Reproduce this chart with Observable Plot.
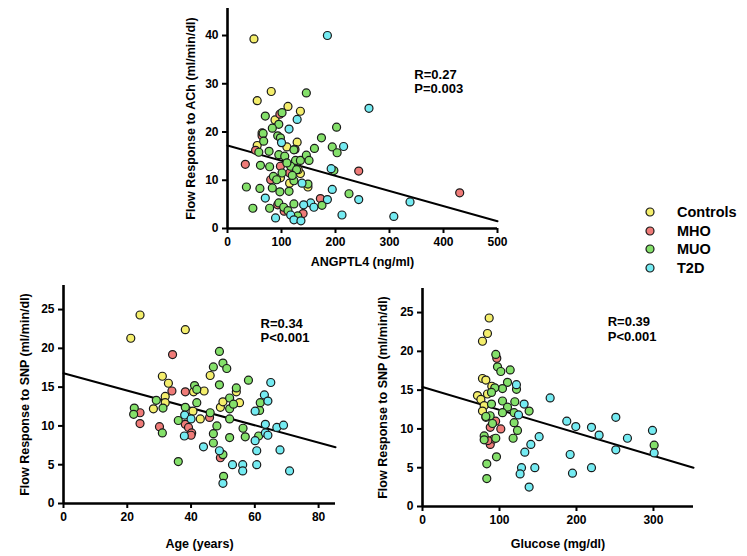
<!DOCTYPE html>
<html>
<head>
<meta charset="utf-8">
<script src="https://cdn.jsdelivr.net/npm/d3@7"></script>
<script src="https://cdn.jsdelivr.net/npm/@observablehq/plot@0.6"></script>
<style>
  html, body { margin: 0; padding: 0; background: #fff; }
  #root { position: relative; width: 747px; height: 556px; overflow: hidden; font-family: "Liberation Sans", Arial, sans-serif; }
  .panel { position: absolute; }
  #legend { position: absolute; left: 640px; top: 200px; font-weight: bold; font-size: 14.5px; color: #000; }
  .lg { position: absolute; left: 0; height: 18px; white-space: nowrap; }
  .lg svg { position: absolute; left: 5px; top: 4px; }
  .lg span { position: absolute; left: 37px; top: 1px; }
</style>
</head>
<body>
<div id="root"></div>
<script>
// ---------- data ----------
const groups = ["Controls", "MHO", "MUO", "T2D"];
const groupColors = ["#f4ee6c", "#ef7b78", "#84e06a", "#74ebf2"];

// Panel A: ANGPTL4 (ng/ml) vs Flow Response to ACh (ml/min/dl)
const achControls = [[49,39.3],[55,26.5],[81,28.4],[112,25.3],[135,24.3],[88,22.5],[64,19.8],[55,17.2],[129,17.9],[110,16.9],[135,11.4],[149,8.6],[115,9.4],[131,12.2],[98,10.5]];
const achMHO = [[33,13.3],[52,16.2],[64,19.2],[97,23.7],[98,12.9],[80,10.1],[93,4.9],[115,11.5],[243,11.9],[430,7.4],[172,6.2],[140,3.1],[105,3.6],[125,16.4]];
const achMUO = [[146,28.1],[70,23.3],[101,24],[95,21.6],[83,20.8],[66,19.7],[67,18.1],[93,19.2],[98,18.8],[77,16],[58,15.8],[95,15.3],[106,15],[123,16.3],[126,14.1],[135,14.1],[146,15.2],[151,14.1],[161,16.6],[174,18.8],[202,21],[194,16.9],[203,15.7],[197,12],[61,13.1],[78,12.8],[85,10.8],[101,11.5],[117,12.9],[123,9.9],[128,12.2],[91,10.1],[35,8.6],[60,8.3],[83,8.4],[97,7.6],[114,7.7],[149,9.2],[225,7.2],[47,4.2],[78,4.2],[95,5.3],[104,4.4],[123,5.1],[112,3.7],[130,2.6],[175,4.8],[110,13.6],[120,11]];
const achT2D = [[185,40],[262,24.9],[129,22.6],[114,20.6],[100,17.8],[215,17],[192,12.4],[194,8.1],[138,9.4],[70,6.3],[185,6],[243,6],[154,5.3],[141,4.9],[160,4.4],[89,2.2],[117,2.8],[123,1.8],[136,1.6],[212,2.8],[308,2.5],[338,5.5]];
const achFit = [[0,17.2],[500,1.5]];
const achTicksX = [0,100,200,300,400,500];
const achTicksY = [0,10,20,30,40];

// Panel B: Age (years) vs Flow Response to SNP
const ageControls = [[24,24.3],[21.1,21.3],[38.2,22.4],[31,16.4],[32.9,15.5],[31.9,13.8],[31.9,13],[28.2,12.2],[46,16.5],[44.1,14.5],[40.8,14.4],[42.9,10.9],[40.6,11.9],[49.2,12.4],[50,13.1],[54.2,14.4],[55.2,13]];
const ageMHO = [[34.2,19.2],[34,14.5],[38.2,14.4],[24,11.7],[24,10.3],[30.1,9.9],[38.2,10.2],[39.2,9.8],[40.2,9.1],[49.2,5.9],[45.8,11.1],[40,8.8]];
const ageMUO = [[22.2,12.3],[22,11.5],[29.1,13.3],[31.2,12.3],[31,9.1],[36,10.7],[36,5.4],[38.2,12.4],[41.1,15.2],[41.8,14.7],[41.8,13],[46,11.7],[47,9],[47,7.8],[48.1,10],[47,17.6],[48.9,19.6],[50,18.1],[51.2,17.4],[48.9,15.3],[52.1,13.6],[52.1,12.2],[52.1,10.9],[53.3,12.8],[54.2,14.9],[52.1,8.5],[50,6.3],[50.2,3.5],[56.3,9.7],[57,8.6],[58,15.9],[61.5,12],[61.7,13],[61.2,8.7]];
const ageT2D = [[38,11.4],[40,10.9],[37.9,8.7],[43.9,7.3],[48.9,6.8],[50,2.6],[53,5],[56.2,5],[56.2,4.2],[60.6,5],[60.6,6.8],[60.1,11.9],[60.1,8.1],[63,14],[63.3,10.2],[63.3,9.1],[64.1,13.2],[65,15.6],[64.1,8.8],[66.9,9.8],[69,10.1],[67.9,6.9],[70.9,4.2]];
const ageFit = [[0,16.8],[85.3,7.25]];
const ageTicksX = [0,20,40,60,80];
const snpTicksY = [0,5,10,15,20,25];

// Panel C: Glucose (mg/dl) vs Flow Response to SNP
const gluControls = [[86.6,24.3],[84.4,22.3],[77.9,21.3],[77.9,16.5],[82.3,16.3],[71.4,14.3],[75.8,13.8],[80.1,13],[77.9,12.3],[84.4,14.5],[82.3,11.5],[90,15.5]];
const gluMHO = [[96.5,19.1],[101.7,10],[88,10.2],[88,8],[92.6,8.7],[85,8.5],[95,11]];
const gluMUO = [[95.2,19.6],[97.4,18],[101.7,17.4],[113.9,17.6],[110.4,16],[103.9,15.2],[93.9,15.3],[89.6,14.7],[89.6,13.2],[103.9,13.6],[110.4,12.8],[119.9,13.5],[119,12.1],[122.1,15.1],[138.5,12.3],[103.9,12.1],[87.9,11.7],[82.3,11.6],[90.9,10.7],[119,10.8],[123.4,9.8],[117.7,8.8],[95.2,8.8],[80.1,9.1],[80.1,8.6],[96.1,6.4],[83.5,5.5],[83.5,3.6],[300.9,7.9]];
const gluT2D = [[122,15.7],[132,13.2],[124.7,11.8],[165.8,14],[187.4,11],[199.1,10.3],[219.5,10.2],[229.4,9.2],[251.1,11.5],[266.2,8.8],[251.1,7.3],[298.7,9.8],[300.9,6.9],[151.5,9],[140.7,8],[132.9,7],[128.6,5],[126.8,4.2],[145.9,5],[138.5,2.5],[191.8,6.7],[194.8,4.3],[219.5,5]];
const gluFit = [[0,15.4],[352,5.0]];
const gluTicksX = [0,100,200,300];

// ---------- drawing ----------
const FONT = '"Liberation Sans", Arial, Helvetica, sans-serif';

function combine(lists) {
  const out = [];
  lists.forEach((list, i) => list.forEach(([x, y]) => out.push({x, y, group: groups[i]})));
  return out;
}

function panel(o) {
  const xMid = (o.xDomain[0] + o.xDomain[1]) / 2;
  const yMid = (o.yDomain[0] + o.yDomain[1]) / 2;
  return Plot.plot({
    width: o.width, height: o.height,
    marginLeft: o.ml, marginRight: o.mr, marginTop: o.mt, marginBottom: o.mb,
    x: {domain: o.xDomain},
    y: {domain: o.yDomain},
    color: {domain: groups, range: groupColors},
    style: {fontFamily: FONT, fontWeight: "bold", fontSize: "12px", color: "#000", background: "transparent", overflow: "visible"},
    marks: [
      Plot.axisX({ticks: o.xTicks, tickSize: 5, tickPadding: 4, strokeWidth: 2, label: null, fontSize: 12, fontWeight: "bold"}),
      Plot.axisY({ticks: o.yTicks, tickSize: 5, tickPadding: 4, strokeWidth: 2, label: null, fontSize: 12, fontWeight: "bold"}),
      Plot.ruleY([0], {strokeWidth: 2.6, stroke: "#000"}),
      Plot.ruleX([0], {strokeWidth: 2.6, stroke: "#000"}),
      Plot.line(o.fit, {stroke: "#000", strokeWidth: 2}),
      Plot.dot(combine(o.groups), {x: "x", y: "y", fill: "group", r: 4, stroke: "#1a1a1a", strokeWidth: 1.2}),
      Plot.text([o.ann], {x: o.annX, y: o.annY, text: d => d, textAnchor: "start", lineAnchor: "top", lineHeight: 1.12, fontSize: 13, fontWeight: "bold"}),
      Plot.text([o.xLabel], {x: xMid, y: o.yDomain[0], dy: o.xLabelDy, text: d => d, fontSize: 12.5, fontWeight: "bold"}),
      Plot.text([o.yLabel], {x: o.xDomain[0], y: yMid, dx: o.yLabelDx, rotate: -90, text: d => d, fontSize: 12.5, fontWeight: "bold"})
    ]
  });
}

const root = document.getElementById("root");
function place(node, left, top) {
  const d = document.createElement("div");
  d.className = "panel";
  d.style.left = left + "px";
  d.style.top = top + "px";
  d.appendChild(node);
  root.appendChild(d);
}

place(panel({
  width: 340, height: 275, ml: 57, mr: 13, mt: 8, mb: 47,
  xDomain: [0, 500], yDomain: [0, 45.6],
  xTicks: achTicksX, yTicks: achTicksY,
  fit: achFit, groups: [achControls, achMHO, achMUO, achT2D],
  ann: "R=0.27\nP=0.003", annX: 346, annY: 33.2,
  xLabel: "ANGPTL4 (ng/ml)", xLabelDy: 33,
  yLabel: "Flow Response to ACh (ml/min/dl)", yLabelDx: -37
}), 170, 0);

place(panel({
  width: 360, height: 281, ml: 63, mr: 25, mt: 10, mb: 53,
  xDomain: [0, 85.3], yDomain: [0, 28.1],
  xTicks: ageTicksX, yTicks: snpTicksY,
  fit: ageFit, groups: [ageControls, ageMHO, ageMUO, ageT2D],
  ann: "R=0.34\nP<0.001", annX: 61.8, annY: 24.0,
  xLabel: "Age (years)", xLabelDy: 40,
  yLabel: "Flow Response to SNP (ml/min/dl)", yLabelDx: -39
}), 0, 275);

place(panel({
  width: 377, height: 281, ml: 52, mr: 54, mt: 13, mb: 50,
  xDomain: [0, 352], yDomain: [0, 28.1],
  xTicks: gluTicksX, yTicks: snpTicksY,
  fit: gluFit, groups: [gluControls, gluMHO, gluMUO, gluT2D],
  ann: "R=0.39\nP<0.001", annX: 240.6, annY: 24.6,
  xLabel: "Glucose (mg/dl)", xLabelDy: 37,
  yLabel: "Flow Response to SNP (ml/min/dl)", yLabelDx: -40
}), 370, 275);

// legend
const legend = document.createElement("div");
legend.id = "legend";
const rowTops = [3, 22, 40, 59];
groups.forEach((g, i) => {
  const row = document.createElement("div");
  row.className = "lg";
  row.style.top = rowTops[i] + "px";
  row.innerHTML = `<svg width="10" height="10"><circle cx="5" cy="5" r="4" fill="${groupColors[i]}" stroke="#1a1a1a" stroke-width="1.2"/></svg><span>${g}</span>`;
  legend.appendChild(row);
});
root.appendChild(legend);
</script>
</body>
</html>
